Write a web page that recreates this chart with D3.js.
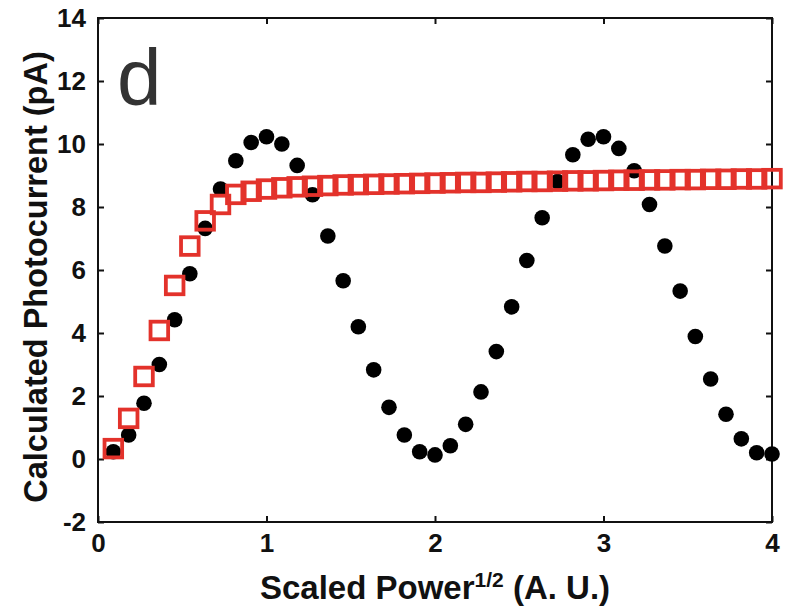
<!DOCTYPE html>
<html><head><meta charset="utf-8">
<script src="https://cdn.jsdelivr.net/npm/d3@7"></script>
<style>html,body{margin:0;padding:0;background:#fff;}svg{display:block;}</style>
</head><body>
<script>
const xValues = [0.091,0.182,0.273,0.364,0.455,0.545,0.636,0.727,0.818,0.909,1.000,
  1.091,1.182,1.273,1.364,1.455,1.545,1.636,1.727,1.818,1.909,2.000,
  2.091,2.182,2.273,2.364,2.455,2.545,2.636,2.727,2.818,2.909,3.000,
  3.091,3.182,3.273,3.364,3.455,3.545,3.636,3.727,3.818,3.909,4.000];
const blackSeries = [0.23,0.76,1.77,3.00,4.42,5.88,7.32,8.57,9.47,10.05,10.23,
  10.00,9.32,8.39,7.08,5.66,4.20,2.83,1.64,0.76,0.23,0.13,
  0.42,1.10,2.13,3.41,4.83,6.30,7.66,8.81,9.66,10.15,10.23,
  9.86,9.15,8.08,6.76,5.33,3.89,2.54,1.42,0.64,0.20,0.16];
const redSeries = [0.33,1.29,2.62,4.08,5.51,6.76,7.56,8.08,8.40,8.50,8.57,
  8.61,8.64,8.66,8.68,8.70,8.71,8.72,8.73,8.74,8.75,8.76,
  8.77,8.78,8.78,8.79,8.80,8.81,8.81,8.82,8.83,8.83,8.84,
  8.85,8.85,8.86,8.86,8.87,8.87,8.88,8.88,8.89,8.89,8.90];
const xTicks = [0,1,2,3,4];
const yTicks = [-2,0,2,4,6,8,10,12,14];
const panelLabel = "d";

const W = 786, H = 611;
const m = {left:98, right:14, top:18, bottom:89};
const iw = W - m.left - m.right, ih = H - m.top - m.bottom;

const svg = d3.select("body").append("svg").attr("width", W).attr("height", H);
const g = svg.append("g").attr("transform", `translate(${m.left},${m.top})`);

const x = d3.scaleLinear().domain([0,4]).range([0, iw]);
const y = d3.scaleLinear().domain([-2,14]).range([ih, 0]);

const font = "'Liberation Sans', Arial, sans-serif";
const tickLen = 6;
const fmt = d => String(d);

// frame
g.append("rect").attr("x",0).attr("y",0).attr("width",iw).attr("height",ih)
  .attr("fill","none").attr("stroke","#111").attr("stroke-width",2);

function styleAxis(sel, labels){
  sel.select(".domain").remove();
  sel.selectAll(".tick line").attr("stroke","#111").attr("stroke-width",2);
  sel.selectAll(".tick text").attr("fill","#111")
    .style("font-family",font).style("font-weight","bold").style("font-size","26px");
  if(!labels) sel.selectAll(".tick text").remove();
}

const xb = g.append("g").attr("transform",`translate(0,${ih})`)
  .call(d3.axisBottom(x).tickValues(xTicks).tickSizeInner(-tickLen).tickSizeOuter(0).tickPadding(12).tickFormat(fmt));
styleAxis(xb, true);
const xt = g.append("g")
  .call(d3.axisTop(x).tickValues(xTicks).tickSizeInner(-tickLen).tickSizeOuter(0));
styleAxis(xt, false);
const yl = g.append("g")
  .call(d3.axisLeft(y).tickValues(yTicks).tickSizeInner(-tickLen).tickSizeOuter(0).tickPadding(12).tickFormat(fmt));
styleAxis(yl, true);
const yr = g.append("g").attr("transform",`translate(${iw},0)`)
  .call(d3.axisRight(y).tickValues(yTicks).tickSizeInner(-tickLen).tickSizeOuter(0));
styleAxis(yr, false);

// black dots
g.append("g").selectAll("circle").data(xValues.map((v,i)=>[v,blackSeries[i]])).join("circle")
  .attr("cx", d=>x(d[0])).attr("cy", d=>y(d[1])).attr("r",7.8).attr("fill","#000");

// red open squares
const s = 17.6;
g.append("g").selectAll("rect").data(xValues.map((v,i)=>[v,redSeries[i]])).join("rect")
  .attr("x", d=>x(d[0])-s/2).attr("y", d=>y(d[1])-s/2).attr("width",s).attr("height",s)
  .attr("fill","none").attr("stroke","#e3322b").attr("stroke-width",3.8);

// panel label
g.append("text").attr("x", 19).attr("y", 87).text(panelLabel)
  .style("font-family",font).style("font-size","80px").attr("fill","#333");

// x title
const xtitle = svg.append("text").attr("x", 435).attr("y", 599).attr("text-anchor","middle")
  .style("font-family",font).style("font-weight","bold").style("font-size","33px").attr("fill","#111");
xtitle.append("tspan").text("Scaled Power");
xtitle.append("tspan").attr("dy",-12).style("font-size","21px").text("1/2");
xtitle.append("tspan").attr("dy",12).text(" (A. U.)");

// y title
svg.append("text").attr("transform",`translate(47,277) rotate(-90)`).attr("text-anchor","middle")
  .style("font-family",font).style("font-weight","bold").style("font-size","32.5px").attr("fill","#111")
  .text("Calculated Photocurrent (pA)");
</script>
</body></html>
